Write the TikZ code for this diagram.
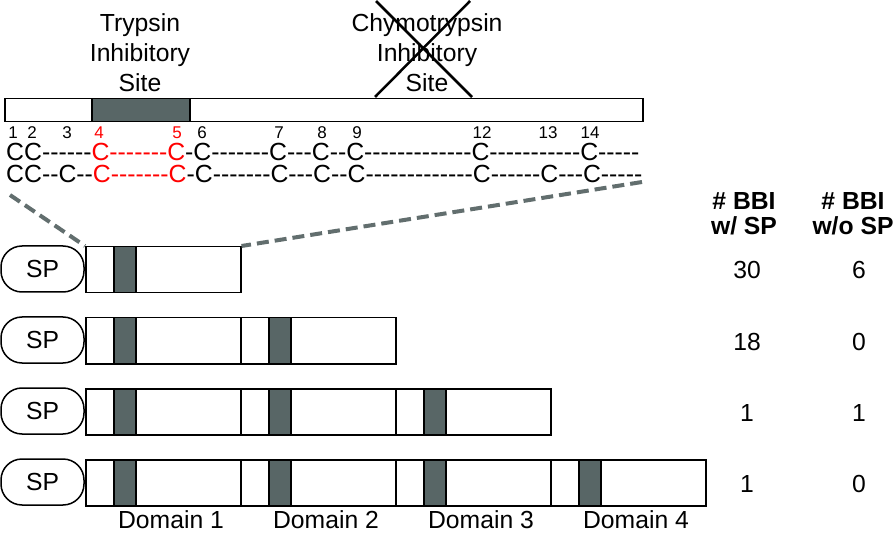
\documentclass[tikz,border=0pt]{standalone}
\usepackage{fontspec}
\setmainfont{Liberation Sans}
\definecolor{sitegrey}{RGB}{88,102,102}
\definecolor{linkgrey}{RGB}{98,110,110}
\newcommand\hyps[1]{\foreach\n in {1,...,#1}{-\kern0pt}}
\tikzset{
  lbl/.style={font=\fontsize{24.7}{30}\selectfont, inner sep=0pt, align=center},
  hdr/.style={font=\bfseries\fontsize{24.7}{25}\selectfont, inner sep=0pt, align=center},
  cys/.style={font=\fontsize{24.8}{30}\selectfont, inner sep=0pt},
  num/.style={font=\fontsize{17}{20}\selectfont, inner sep=0pt},
  bar/.style={draw, line width=1.5pt, fill=white, inner sep=0pt, minimum height=23pt},
  sitebox/.style={draw, line width=1.5pt, fill=sitegrey, inner sep=0pt},
  spbox/.style={draw, line width=1.5pt, fill=white, rounded corners=21pt, minimum width=83pt, minimum height=46pt, inner sep=0pt, font=\fontsize{24.7}{30}\selectfont},
  dombox/.style={draw, line width=1.5pt, fill=white, minimum width=155pt, minimum height=46pt, inner sep=0pt},
  link/.style={draw=linkgrey, line width=4pt, dash pattern=on 12pt off 6pt},
  cross/.style={line width=2.5pt}
}
\begin{document}
\begin{tikzpicture}[x=1pt,y=-1pt]
\useasboundingbox (0,0) rectangle (896,534);
% top bar
\node[bar, minimum width=638pt, anchor=north west] (topbar) at (4,98) {};
\node[sitebox, minimum width=98pt, minimum height=23pt, anchor=north west] (tsite) at (91,98) {};
% labels (base = last line)
\node[lbl, anchor=base] (tlab) at (140,92) {Trypsin\\Inhibitory\\Site};
\node[lbl, anchor=base] (clab) at (427,92) {Chymotrypsin\\Inhibitory\\Site};
\coordinate (xa) at (376,1);
\coordinate (xb) at (472,97);
\coordinate (xc) at (470,1);
\coordinate (xd) at (375,97);
\draw[cross] (xa) -- (xb);
\draw[cross] (xc) -- (xd);
% cysteine numbers
\foreach \x/\t/\c [count=\i] in {13/1/black,32/2/black,67/3/black,99/4/red,177/5/red,202/6/black,279/7/black,322/8/black,357/9/black,482/12/black,548/13/black,590/14/black}
  \node[num, text=\c, anchor=base] (n\i) at (\x,138.5) {\t};
% cysteine rows
\node[cys, anchor=base west] (row1) at (6,161) {CC\hyps{6}\textcolor{red}{C\hyps{7}C}\hyps{1}C\hyps{7}C\hyps{3}C\hyps{2}C\hyps{13}C\hyps{11}C\hyps{5}};
\node[cys, anchor=base west] (row2) at (6,183) {CC\hyps{2}C\hyps{2}\textcolor{red}{C\hyps{7}C}\hyps{1}C\hyps{7}C\hyps{3}C\hyps{2}C\hyps{13}C\hyps{6}C\hyps{3}C\hyps{5}};
% domain rows
\foreach \k in {1,...,4}{
  \pgfmathsetmacro\yt{246+71*(\k-1)}
  \node[spbox] (sp\k) at (42.5,\yt+23) {SP};
  \foreach \d in {1,...,\k}{
    \pgfmathsetmacro\xl{85+155*(\d-1)}
    \node[dombox, anchor=north west] (dom\k\d) at (\xl,\yt) {};
    \node[sitebox, minimum width=22pt, minimum height=46pt, anchor=north west] (site\k\d) at (\xl+28,\yt) {};
  }
}
% zoom connectors
\coordinate (zl) at (10,195);
\coordinate (zr) at (642,182);
\draw[link] (zl) -- (dom11.north west);
\draw[link] (zr) -- (dom11.north east);
% domain labels
\foreach \x [count=\i] in {171,326,481,636}
  \node[lbl, anchor=base] (dl\i) at (\x,528) {Domain \i};
% table
\node[hdr, anchor=base] (h1) at (744,235) {\# BBI\\w/ SP};
\node[hdr, anchor=base] (h2) at (853,235) {\# BBI\\w/o SP};
\foreach \a/\b [count=\i] in {30/6,18/0,1/1,1/0}{
  \node[lbl, anchor=base] (wa\i) at (747,279+71*\i-71) {\a};
  \node[lbl, anchor=base] (wb\i) at (859,279+71*\i-71) {\b};
}
\end{tikzpicture}
\end{document}
